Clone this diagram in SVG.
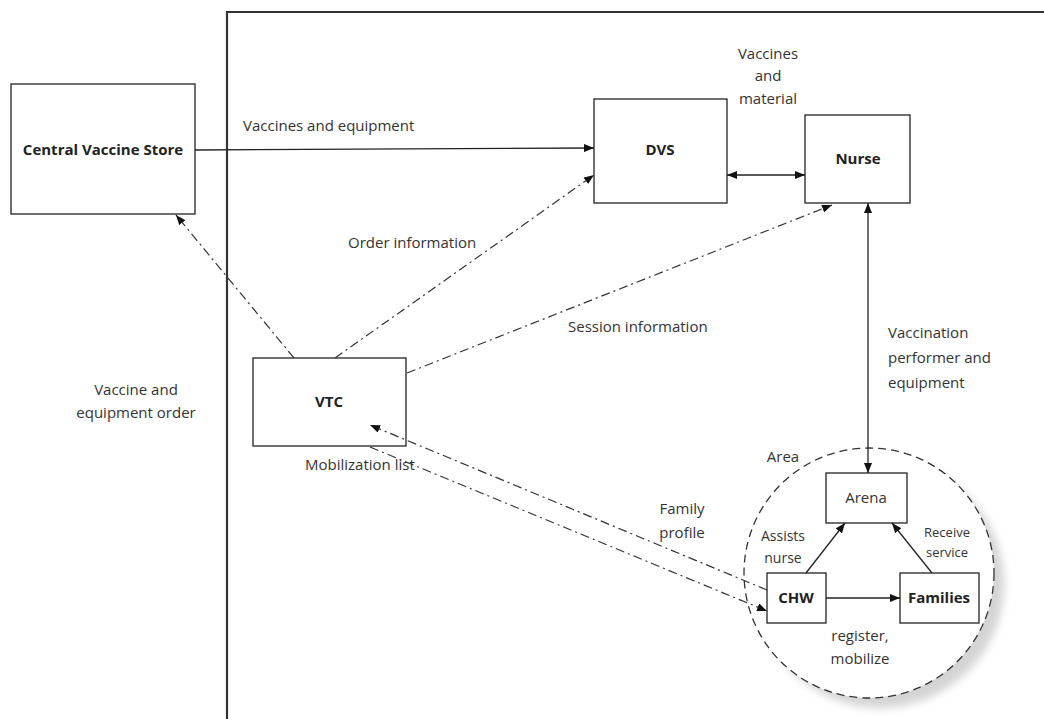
<svg xmlns="http://www.w3.org/2000/svg" width="1044" height="719" viewBox="0 0 1044 719">
  <defs>
    <marker id="arrow" viewBox="0 0 10 8" refX="10" refY="4" markerWidth="10" markerHeight="8" markerUnits="userSpaceOnUse" orient="auto-start-reverse">
      <path d="M0,0 L10,4 L0,8 Z" fill="#111"/>
    </marker>
    <filter id="soft" x="-20%" y="-20%" width="140%" height="140%">
      <feGaussianBlur stdDeviation="4"/>
    </filter>
    <style>
      .box { fill: #fff; stroke: #222; stroke-width: 1.3; }
      .title { font-family: "Open Sans", "Liberation Sans", sans-serif; font-weight: bold; font-size: 15px; fill: #222; text-anchor: middle; }
      .lbl { font-family: "Open Sans", "Liberation Sans", sans-serif; font-size: 15px; fill: #333; }
      .mid { font-size: 14px; }
      .small { font-size: 13px; }
      .solid { fill: none; stroke: #222; stroke-width: 1.3; }
      .dashdot { fill: none; stroke: #333; stroke-width: 1.2; stroke-dasharray: 9 4 2 4; }
    </style>
  </defs>

  <rect width="1044" height="719" fill="#fff"/>

  <!-- system boundary -->
  <path d="M227,719 L227,12 L1044,12" fill="none" stroke="#333" stroke-width="2.2"/>

  <!-- area -->
  <g id="area">
    <circle cx="880" cy="584" r="124" fill="#d4d4d4" filter="url(#soft)"/>
    <circle cx="869" cy="573" r="125" fill="#fff" stroke="#333" stroke-width="1.3" stroke-dasharray="8 5"/>
    <text class="lbl" x="783" y="462" text-anchor="middle">Area</text>
  </g>

  <!-- nodes -->
  <g id="central-vaccine-store">
    <rect class="box" x="11" y="84" width="184" height="130"/>
    <text class="title" x="103" y="155">Central Vaccine Store</text>
  </g>
  <g id="dvs">
    <rect class="box" x="594" y="99" width="133" height="104"/>
    <text class="title" x="660" y="155">DVS</text>
  </g>
  <g id="nurse">
    <rect class="box" x="805" y="115" width="105" height="88"/>
    <text class="title" x="858" y="164">Nurse</text>
  </g>
  <g id="vtc">
    <rect class="box" x="253" y="358" width="153" height="88"/>
    <text class="title" x="329" y="407">VTC</text>
  </g>
  <g id="arena">
    <rect class="box" x="826" y="473" width="81" height="50"/>
    <text class="lbl" x="866" y="503" text-anchor="middle">Arena</text>
  </g>
  <g id="chw">
    <rect class="box" x="767" y="573" width="59" height="50"/>
    <text class="title" x="796" y="603">CHW</text>
  </g>
  <g id="families">
    <rect class="box" x="900" y="573" width="79" height="50"/>
    <text class="title" x="939" y="603">Families</text>
  </g>

  <!-- connectors -->
  <g id="connectors">
    <line class="solid" x1="195" y1="150" x2="594" y2="148" marker-end="url(#arrow)"/>
    <line class="solid" x1="727" y1="175" x2="805" y2="175" marker-start="url(#arrow)" marker-end="url(#arrow)"/>
    <line class="solid" x1="868" y1="203" x2="868" y2="473" marker-start="url(#arrow)" marker-end="url(#arrow)"/>
    <line class="solid" x1="826" y1="598" x2="900" y2="598" marker-end="url(#arrow)"/>
    <line class="solid" x1="806" y1="573" x2="845" y2="523" marker-end="url(#arrow)"/>
    <line class="solid" x1="932" y1="573" x2="892" y2="523" marker-end="url(#arrow)"/>

    <line class="dashdot" x1="294" y1="358" x2="176" y2="215" marker-end="url(#arrow)"/>
    <line class="dashdot" x1="335" y1="358" x2="594" y2="175" marker-end="url(#arrow)"/>
    <line class="dashdot" x1="407" y1="373" x2="832" y2="205" marker-end="url(#arrow)"/>
    <line class="dashdot" x1="767" y1="590" x2="370" y2="425" marker-end="url(#arrow)"/>
    <line class="dashdot" x1="370" y1="447" x2="767" y2="611" marker-end="url(#arrow)"/>
  </g>

  <!-- connector labels -->
  <g id="labels" class="lbl">
    <text x="243" y="131">Vaccines and equipment</text>
    <text x="768" y="59" text-anchor="middle">Vaccines</text>
    <text x="768" y="81" text-anchor="middle">and</text>
    <text x="768" y="104" text-anchor="middle">material</text>
    <text x="348" y="248">Order information</text>
    <text x="136" y="395" text-anchor="middle">Vaccine and</text>
    <text x="136" y="418" text-anchor="middle">equipment order</text>
    <text x="568" y="332">Session information</text>
    <text x="888" y="338">Vaccination</text>
    <text x="888" y="363">performer and</text>
    <text x="888" y="388">equipment</text>
    <text x="305" y="470">Mobilization list</text>
    <text x="682" y="514" text-anchor="middle">Family</text>
    <text x="682" y="538" text-anchor="middle">profile</text>
    <text x="783" y="541" text-anchor="middle" class="mid">Assists</text>
    <text x="783" y="563" text-anchor="middle" class="mid">nurse</text>
    <text x="947" y="537" text-anchor="middle" class="small">Receive</text>
    <text x="947" y="557" text-anchor="middle" class="small">service</text>
    <text x="860" y="641" text-anchor="middle">register,</text>
    <text x="860" y="664" text-anchor="middle">mobilize</text>
  </g>
</svg>
